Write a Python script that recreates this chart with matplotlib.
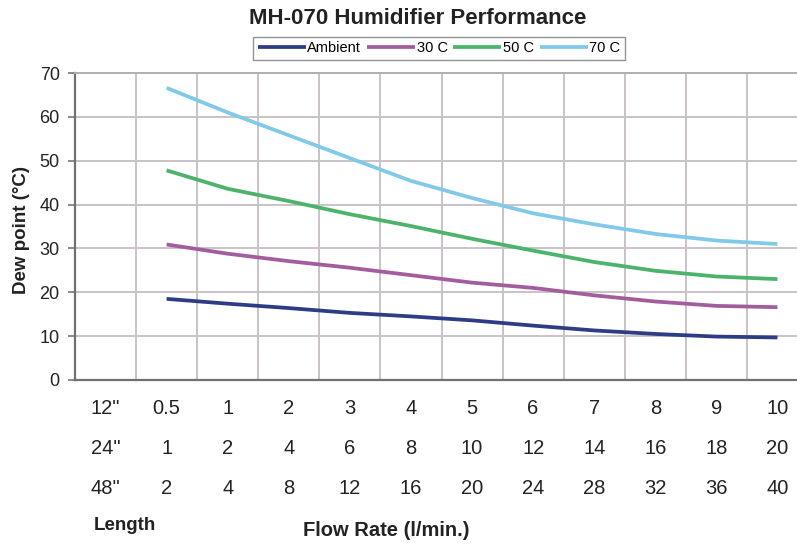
import matplotlib.pyplot as plt
import matplotlib.transforms as mtransforms
import numpy as np

plt.rcParams['font.family'] = ['Liberation Sans', 'DejaVu Sans']

# 資料
row_names = ['12"', '24"', '48"']
flow_12 = ['0.5', '1', '2', '3', '4', '5', '6', '7', '8', '9', '10']
flow_24 = ['1', '2', '4', '6', '8', '10', '12', '14', '16', '18', '20']
flow_48 = ['2', '4', '8', '12', '16', '20', '24', '28', '32', '36', '40']

ambient = [18.5, 17.4, 16.4, 15.3, 14.5, 13.6, 12.4, 11.3, 10.5, 9.9, 9.7]
c30 = [30.9, 28.8, 27.1, 25.6, 23.9, 22.2, 21.0, 19.3, 17.9, 16.9, 16.6]
c50 = [47.8, 43.6, 40.8, 37.8, 35.1, 32.2, 29.5, 26.9, 24.9, 23.6, 23.0]
c70 = [66.6, 61.0, 55.8, 50.6, 45.4, 41.5, 38.0, 35.5, 33.3, 31.8, 31.0]

series = [('Ambient', ambient, '#2e3c86'),
          ('30 C', c30, '#a35c9e'),
          ('50 C', c50, '#4cb36a'),
          ('70 C', c70, '#80c9e9')]

ncat = len(flow_12) + 1
xs = np.arange(1, ncat)

fig = plt.figure(figsize=(7.97, 5.46), dpi=100)
ax = fig.add_axes([75 / 797, 1 - 380 / 546, 733 / 797, 307 / 546])

for name, vals, col in series:
    ax.plot(xs, vals, color=col, lw=2.7, label=name, solid_capstyle='butt')

ax.set_xlim(-0.5, ncat - 0.5)
ax.set_ylim(0, 70)
ax.set_yticks(np.arange(0, 71, 10))
ax.set_xticks(np.arange(ncat - 1) + 0.5)
ax.set_xticklabels([])
ax.tick_params(axis='x', length=0)
ax.tick_params(axis='y', length=5, width=1.2, color='#777777', labelsize=13,
               labelcolor='#222222', pad=6)
ax.grid(True, color='#c9c3c9', lw=1.4)
ax.set_axisbelow(True)
for s in ['left', 'bottom']:
    ax.spines[s].set_color('#707070')
    ax.spines[s].set_linewidth(1.6)
ax.spines['top'].set_color('#b0b0b0')
ax.spines['top'].set_linewidth(1.4)
ax.spines['right'].set_visible(False)

# 三列流量刻度
trans = mtransforms.blended_transform_factory(ax.transData, fig.transFigure)
rows = [flow_12, flow_24, flow_48]
row_y = [1 - 409 / 546, 1 - 449 / 546, 1 - 488 / 546]
for name, labels, yy in zip(row_names, rows, row_y):
    ax.text(0, yy, name, transform=trans, ha='center', va='center',
            fontsize=14.5, color='#222222')
    for x, lab in zip(xs, labels):
        ax.text(x, yy, lab, transform=trans, ha='center', va='center',
                fontsize=14.5, color='#222222')

fig.text(125 / 797, 1 - 525 / 546, 'Length', ha='center', va='center',
         fontsize=13.5, fontweight='bold', color='#222222')
fig.text(386 / 797, 1 - 531 / 546, 'Flow Rate (l/min.)', ha='center', va='center',
         fontsize=14.5, fontweight='bold', color='#222222')
fig.text(22 / 797, 1 - 230 / 546, 'Dew point (\u00b0C)', ha='center', va='center',
         rotation=90, fontsize=13.5, fontweight='bold', color='#222222')
fig.text(418 / 797, 1 - 19 / 546, 'MH-070 Humidifier Performance', ha='center',
         va='center', fontsize=16, fontweight='bold', color='#222222')

leg = fig.legend(loc='center', bbox_to_anchor=(439 / 797, 1 - 48.5 / 546), ncol=4,
                 fontsize=10.5, frameon=True, fancybox=False, edgecolor='#777777',
                 handlelength=3.3, handletextpad=0.1, columnspacing=0.4,
                 borderpad=0.3, borderaxespad=0)
leg.get_frame().set_linewidth(1.0)

plt.savefig('out.png', dpi=100)
